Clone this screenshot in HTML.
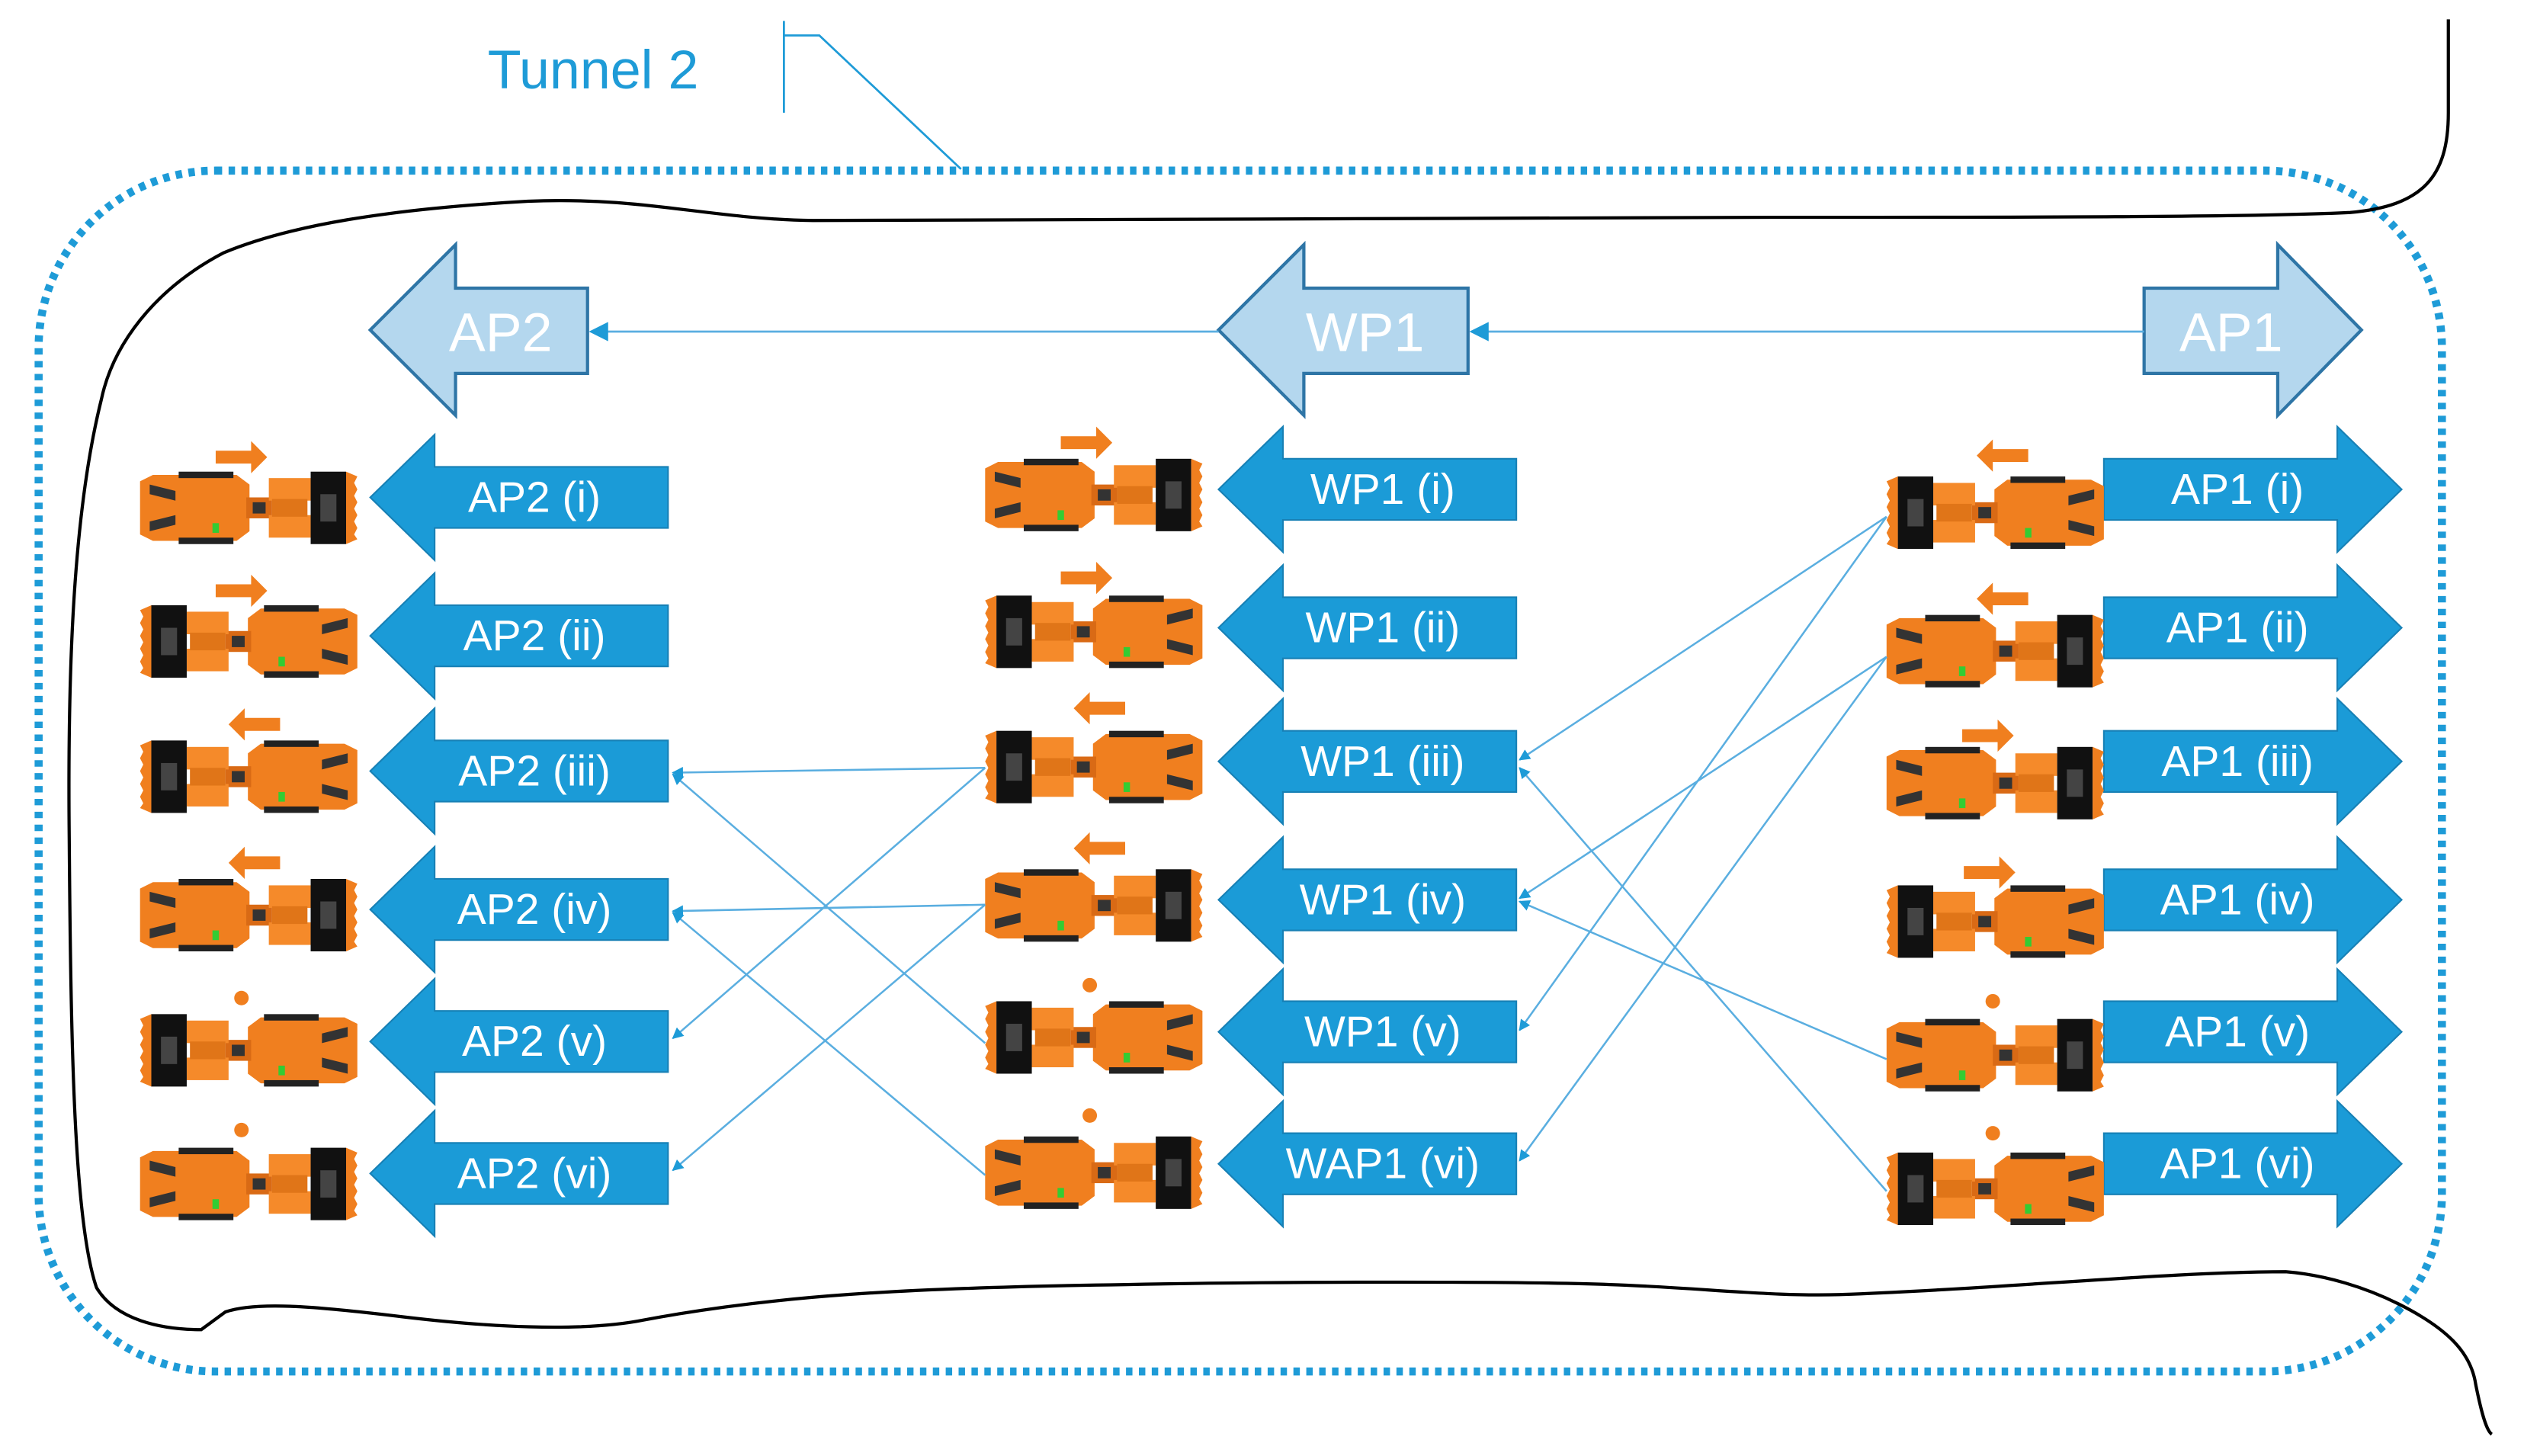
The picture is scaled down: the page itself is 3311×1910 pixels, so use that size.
<!DOCTYPE html>
<html><head><meta charset="utf-8"><style>
html,body{margin:0;padding:0;background:#fff;}
svg{display:block}
text{font-family:"Liberation Sans",sans-serif;}
</style></head><body>
<svg width="3311" height="1910" viewBox="0 0 1568 904.5" preserveAspectRatio="none" xmlns="http://www.w3.org/2000/svg">
<defs>
<marker id="ah" viewBox="0 0 10 10" refX="9" refY="5" markerWidth="7" markerHeight="7" orient="auto-start-reverse" markerUnits="userSpaceOnUse">
<path d="M0,0 L10,5 L0,10 Z" fill="#1e9bd7"/></marker>
<marker id="ah2" viewBox="0 0 10 10" refX="9" refY="5" markerWidth="12" markerHeight="12" orient="auto" markerUnits="userSpaceOnUse">
<path d="M0,0 L10,5 L0,10 Z" fill="#1e9bd7"/></marker>
<g id="veh">
<path d="M0,6 L8,2 L60,2 L68,8 L68,37 L60,43 L8,43 L0,39 Z" fill="#f07f1f"/>
<path d="M6,8 L22,12 L22,18 L6,14Z M6,31 L22,27 L22,33 L6,37Z" fill="#333"/>
<rect x="24" y="0" width="34" height="4" fill="#222"/>
<rect x="24" y="41" width="34" height="4" fill="#222"/>
<rect x="45" y="32" width="4" height="6" fill="#3c3"/>
<rect x="66" y="16" width="16" height="13" fill="#d96a15"/>
<rect x="70" y="19" width="8" height="7" fill="#333"/>
<rect x="80" y="4" width="26" height="14" fill="#f58a2a"/>
<rect x="80" y="27" width="26" height="14" fill="#f58a2a"/>
<rect x="82" y="17" width="22" height="11" fill="#e07518"/>
<rect x="106" y="0" width="22" height="45" fill="#111"/>
<rect x="112" y="14" width="10" height="17" fill="#444"/>
<path d="M128,0 L135,3 L133,7 L135,11 L133,15 L135,19 L133,23 L135,27 L133,31 L135,35 L133,39 L135,42 L128,45Z" fill="#f07f1f"/>
</g>
<path id="arrR" d="M0,-4 L22,-4 L22,-10 L32,0 L22,10 L22,4 L0,4Z" fill="#f07f1f"/>
</defs>

<text x="303" y="55" font-size="34" fill="#1e9bd7">Tunnel 2</text>
<path d="M487,13 L487,70 M487,22 L509,22 L597,105" stroke="#1e9bd7" stroke-width="1.3" fill="none"/>

<rect x="24" y="106" width="1493" height="746" rx="110" ry="110" fill="none" stroke="#1e9bd7" stroke-width="5" stroke-dasharray="4,4"/>

<path d="M1521,12 L1521,70 C1521,110 1505,128 1460,132 C1400,135 1250,135 1100,135 C800,135 560,137 505,137 C440,136 400,122 328,125 C240,130 180,140 139,157 C95,180 70,215 63,248 C45,320 42,420 43,520 C44,650 46,760 60,800 C72,820 100,826 125,826 L140,815 C160,808 200,812 250,818 C300,824 360,828 400,820 C480,805 560,800 700,798 C800,796 950,796 1000,798 C1060,800 1100,806 1150,804 C1250,800 1350,790 1420,790 C1445,792 1470,800 1490,810 C1520,825 1535,840 1538,860 C1542,880 1545,889 1548,891" fill="none" stroke="#000" stroke-width="2"/>

<g fill="#b4d7ee" stroke="#2e75a6" stroke-width="2">
<path d="M230,205 L283,152 L283,179 L365,179 L365,232 L283,232 L283,258 Z"/>
<path d="M757,205 L810,152 L810,179 L912,179 L912,232 L810,232 L810,258 Z"/>
<path d="M1467,205 L1415,152 L1415,179 L1332,179 L1332,232 L1415,232 L1415,258 Z"/>
</g>
<g fill="#fff" font-size="34" text-anchor="middle">
<text x="311" y="218">AP2</text>
<text x="848" y="218">WP1</text>
<text x="1386" y="218">AP1</text>
</g>
<g stroke="#5aaee0" stroke-width="1.3" fill="none">
<line x1="757" y1="206" x2="367" y2="206" marker-end="url(#ah2)"/>
<line x1="1332" y1="206" x2="914" y2="206" marker-end="url(#ah2)"/>
</g>

<g fill="#1b9bd7" stroke="#1780b5" stroke-width="1">
<path d="M230,309 L270,270 L270,290 L415,290 L415,328 L270,328 L270,348Z"/>
<path d="M230,395 L270,356 L270,376 L415,376 L415,414 L270,414 L270,434Z"/>
<path d="M230,479 L270,440 L270,460 L415,460 L415,498 L270,498 L270,518Z"/>
<path d="M230,565 L270,526 L270,546 L415,546 L415,584 L270,584 L270,604Z"/>
<path d="M230,647 L270,608 L270,628 L415,628 L415,666 L270,666 L270,686Z"/>
<path d="M230,729 L270,690 L270,710 L415,710 L415,748 L270,748 L270,768Z"/>
<path d="M757,304 L797,265 L797,285 L942,285 L942,323 L797,323 L797,343Z"/>
<path d="M757,390 L797,351 L797,371 L942,371 L942,409 L797,409 L797,429Z"/>
<path d="M757,473 L797,434 L797,454 L942,454 L942,492 L797,492 L797,512Z"/>
<path d="M757,559 L797,520 L797,540 L942,540 L942,578 L797,578 L797,598Z"/>
<path d="M757,641 L797,602 L797,622 L942,622 L942,660 L797,660 L797,680Z"/>
<path d="M757,723 L797,684 L797,704 L942,704 L942,742 L797,742 L797,762Z"/>
<path d="M1492,304 L1452,265 L1452,285 L1307,285 L1307,323 L1452,323 L1452,343Z"/>
<path d="M1492,390 L1452,351 L1452,371 L1307,371 L1307,409 L1452,409 L1452,429Z"/>
<path d="M1492,473 L1452,434 L1452,454 L1307,454 L1307,492 L1452,492 L1452,512Z"/>
<path d="M1492,559 L1452,520 L1452,540 L1307,540 L1307,578 L1452,578 L1452,598Z"/>
<path d="M1492,641 L1452,602 L1452,622 L1307,622 L1307,660 L1452,660 L1452,680Z"/>
<path d="M1492,723 L1452,684 L1452,704 L1307,704 L1307,742 L1452,742 L1452,762Z"/>
</g>
<g fill="#fff" font-size="27" text-anchor="middle">
<text x="332" y="318">AP2 (i)</text>
<text x="332" y="404">AP2 (ii)</text>
<text x="332" y="488">AP2 (iii)</text>
<text x="332" y="574">AP2 (iv)</text>
<text x="332" y="656">AP2 (v)</text>
<text x="332" y="738">AP2 (vi)</text>
<text x="859" y="313">WP1 (i)</text>
<text x="859" y="399">WP1 (ii)</text>
<text x="859" y="482">WP1 (iii)</text>
<text x="859" y="568">WP1 (iv)</text>
<text x="859" y="650">WP1 (v)</text>
<text x="859" y="732">WAP1 (vi)</text>
<text x="1390" y="313">AP1 (i)</text>
<text x="1390" y="399">AP1 (ii)</text>
<text x="1390" y="482">AP1 (iii)</text>
<text x="1390" y="568">AP1 (iv)</text>
<text x="1390" y="650">AP1 (v)</text>
<text x="1390" y="732">AP1 (vi)</text>
</g>

<use href="#veh" transform="translate(87,293)"/>
<use href="#veh" transform="translate(222,376) scale(-1,1)"/>
<use href="#veh" transform="translate(222,460) scale(-1,1)"/>
<use href="#veh" transform="translate(87,546)"/>
<use href="#veh" transform="translate(222,630) scale(-1,1)"/>
<use href="#veh" transform="translate(87,713)"/>

<use href="#veh" transform="translate(612,285)"/>
<use href="#veh" transform="translate(747,370) scale(-1,1)"/>
<use href="#veh" transform="translate(747,454) scale(-1,1)"/>
<use href="#veh" transform="translate(612,540)"/>
<use href="#veh" transform="translate(747,622) scale(-1,1)"/>
<use href="#veh" transform="translate(612,706)"/>

<use href="#veh" transform="translate(1307,296) scale(-1,1)"/>
<use href="#veh" transform="translate(1172,382)"/>
<use href="#veh" transform="translate(1172,464)"/>
<use href="#veh" transform="translate(1307,550) scale(-1,1)"/>
<use href="#veh" transform="translate(1172,633)"/>
<use href="#veh" transform="translate(1307,716) scale(-1,1)"/>

<use href="#arrR" transform="translate(134,284)"/>
<use href="#arrR" transform="translate(134,367)"/>
<use href="#arrR" transform="translate(174,450) scale(-1,1)"/>
<use href="#arrR" transform="translate(174,536) scale(-1,1)"/>
<circle cx="150" cy="620" r="4.5" fill="#f07f1f"/>
<circle cx="150" cy="702" r="4.5" fill="#f07f1f"/>
<use href="#arrR" transform="translate(659,275)"/>
<use href="#arrR" transform="translate(659,359)"/>
<use href="#arrR" transform="translate(699,440) scale(-1,1)"/>
<use href="#arrR" transform="translate(699,527) scale(-1,1)"/>
<circle cx="677" cy="612" r="4.5" fill="#f07f1f"/>
<circle cx="677" cy="693" r="4.5" fill="#f07f1f"/>
<use href="#arrR" transform="translate(1260,283) scale(-1,1)"/>
<use href="#arrR" transform="translate(1260,372) scale(-1,1)"/>
<use href="#arrR" transform="translate(1219,457)"/>
<use href="#arrR" transform="translate(1220,542)"/>
<circle cx="1238" cy="622" r="4.5" fill="#f07f1f"/>
<circle cx="1238" cy="704" r="4.5" fill="#f07f1f"/>

<g stroke="#5aaee0" stroke-width="1.2" fill="none">
<line x1="612" y1="477" x2="418" y2="480" marker-end="url(#ah)"/>
<line x1="612" y1="477" x2="418" y2="645" marker-end="url(#ah)"/>
<line x1="612" y1="562" x2="418" y2="566" marker-end="url(#ah)"/>
<line x1="612" y1="562" x2="418" y2="727" marker-end="url(#ah)"/>
<line x1="612" y1="648" x2="418" y2="481" marker-end="url(#ah)"/>
<line x1="612" y1="730" x2="418" y2="567" marker-end="url(#ah)"/>
<line x1="1172" y1="321" x2="944" y2="472" marker-end="url(#ah)"/>
<line x1="1172" y1="321" x2="944" y2="640" marker-end="url(#ah)"/>
<line x1="1172" y1="408" x2="944" y2="558" marker-end="url(#ah)"/>
<line x1="1172" y1="408" x2="944" y2="721" marker-end="url(#ah)"/>
<line x1="1172" y1="658" x2="944" y2="560" marker-end="url(#ah)"/>
<line x1="1172" y1="740" x2="944" y2="477" marker-end="url(#ah)"/>
</g>
</svg>
</body></html>
